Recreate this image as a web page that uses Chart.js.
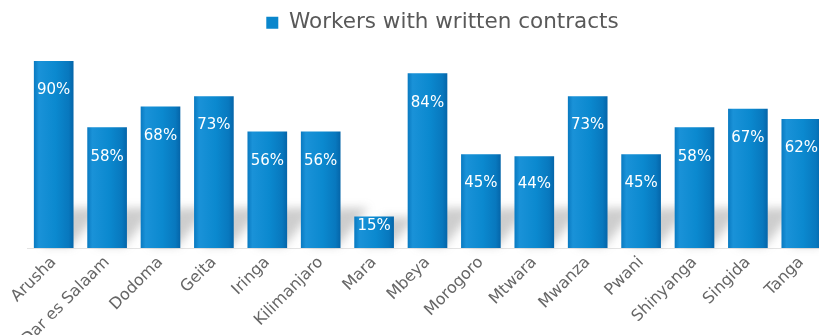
<!DOCTYPE html>
<html>
<head>
<meta charset="utf-8">
<script src="https://cdn.jsdelivr.net/npm/chart.js@4.4.1/dist/chart.umd.min.js"></script>
<style>
  html, body { margin: 0; padding: 0; background: #fff; overflow: hidden; height: 335px; }
  #wrap { position: relative; width: 885px; height: 335px; }
</style>
</head>
<body>
<div id="wrap"><canvas id="contractsChart"></canvas></div>
<script>
const regions = ['Arusha', 'Dar es Salaam', 'Dodoma', 'Geita', 'Iringa', 'Kilimanjaro', 'Mara', 'Mbeya',
    'Morogoro', 'Mtwara', 'Mwanza', 'Pwani', 'Shinyanga', 'Singida', 'Tanga'];
const writtenContracts = [90, 58, 68, 73, 56, 56, 15, 84, 45, 44, 73, 45, 58, 67, 62];
const seriesName = 'Workers with written contracts';

const BAR_W = 39;

// horizontal shading so each bar looks rounded
function barFill(c) {
    const chart = c.chart;
    if (!chart.chartArea || c.dataIndex === undefined) return '#0a86cc';
    const x = chart.scales.x.getPixelForValue(c.dataIndex);
    const g = chart.ctx.createLinearGradient(x - BAR_W / 2, 0, x + BAR_W / 2, 0);
    g.addColorStop(0, '#0a7bc2');
    g.addColorStop(0.12, '#1a92d8');
    g.addColorStop(0.55, '#0b89cf');
    g.addColorStop(0.88, '#0878be');
    g.addColorStop(1, '#0566aa');
    return g;
}

// soft shadow falling up and to the right behind each bar
const barShadow = {
    id: 'barShadow',
    beforeDatasetsDraw(chart) {
        const { ctx } = chart;
        const meta = chart.getDatasetMeta(0);
        ctx.save();
        ctx.filter = 'blur(5px)';
        ctx.fillStyle = 'rgba(100,100,100,0.32)';
        meta.data.forEach(bar => {
            const h = Math.min(bar.base - bar.y, 40);
            const l = bar.x - BAR_W / 2, r = bar.x + BAR_W / 2;
            ctx.beginPath();
            ctx.moveTo(l + 8, bar.base - 2);
            ctx.lineTo(r - 2, bar.base - 2);
            ctx.lineTo(r + h * 0.7, bar.base - h);
            ctx.lineTo(l + 8 + h * 0.7, bar.base - h);
            ctx.closePath();
            ctx.fill();
        });
        ctx.restore();
    }
};

// white percentage labels inside the top of each bar
const valueLabels = {
    id: 'valueLabels',
    afterDatasetsDraw(chart) {
        const { ctx } = chart;
        const meta = chart.getDatasetMeta(0);
        ctx.save();
        ctx.fillStyle = '#ffffff';
        ctx.font = '15px "DejaVu Sans"';
        ctx.textAlign = 'center';
        ctx.textBaseline = 'middle';
        meta.data.forEach((bar, i) => {
            const h = bar.base - bar.y;
            ctx.fillText(writtenContracts[i] + '%', bar.x, bar.y + Math.min(29, h * 0.3));
        });
        ctx.restore();
    }
};

// legend sits a little right of and below where the layout puts it
const legendNudge = {
    id: 'legendNudge',
    afterLayout(chart) {
        const lg = chart.legend;
        lg.left += 30;
        lg.top += 3;
        lg.bottom += 3;
    }
};

new Chart(document.getElementById('contractsChart'), {
    type: 'bar',
    data: {
        labels: regions,
        datasets: [{
            label: seriesName,
            data: writtenContracts,
            backgroundColor: barFill,
            borderWidth: 0,
            barThickness: BAR_W
        }]
    },
    options: {
        responsive: true,
        maintainAspectRatio: false,
        animation: false,
        layout: { padding: { left: 27, right: 57, top: 0, bottom: 0 } },
        plugins: {
            legend: {
                position: 'top',
                labels: {
                    color: '#595959',
                    font: { family: '"DejaVu Sans"', size: 21.5 },
                    boxWidth: 12,
                    boxHeight: 12,
                    padding: 9,
                    generateLabels: () => [{
                        text: seriesName,
                        fillStyle: '#0a86cc',
                        strokeStyle: '#0a86cc',
                        lineWidth: 0,
                        datasetIndex: 0,
                        fontColor: '#595959'
                    }]
                }
            },
            tooltip: { enabled: false }
        },
        scales: {
            x: {
                grid: { display: false, drawTicks: false },
                border: { color: '#e3e3e3', width: 1 },
                ticks: {
                    color: '#666666',
                    font: { family: '"DejaVu Sans"', size: 16 },
                    maxRotation: 45,
                    minRotation: 45,
                    padding: 5
                },
                // fixed axis band; the longest names run past the bottom edge
                afterFit: (scale) => { scale.height = 87; }
            },
            y: {
                display: false,
                min: 0,
                max: 100
            }
        }
    },
    plugins: [barShadow, valueLabels, legendNudge]
});
</script>
</body>
</html>
